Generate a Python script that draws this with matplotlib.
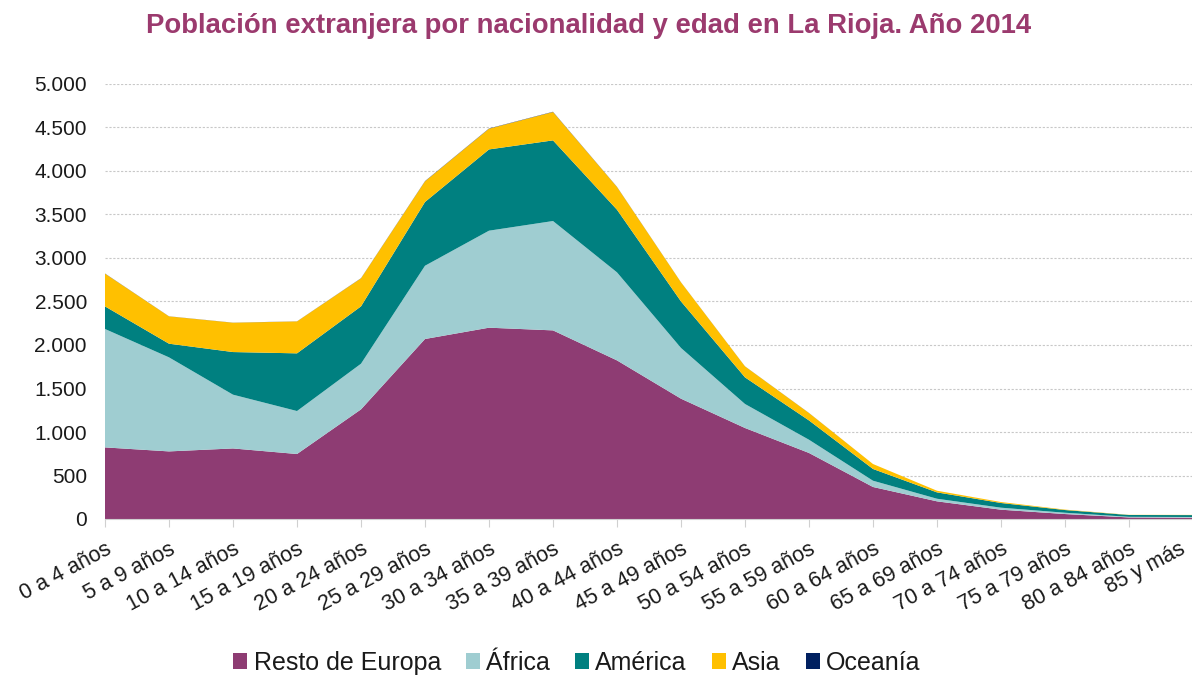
import matplotlib
matplotlib.use("Agg")
import matplotlib.pyplot as plt
from matplotlib.ticker import FuncFormatter, MultipleLocator
from matplotlib.patches import Patch
from matplotlib.transforms import ScaledTranslation

categories = ["0 a 4 años", "5 a 9 años", "10 a 14 años", "15 a 19 años", "20 a 24 años",
              "25 a 29 años", "30 a 34 años", "35 a 39 años", "40 a 44 años", "45 a 49 años",
              "50 a 54 años", "55 a 59 años", "60 a 64 años", "65 a 69 años", "70 a 74 años",
              "75 a 79 años", "80 a 84 años", "85 y más"]

resto_europa = [823, 777, 811, 747, 1260, 2069, 2199, 2168, 1823, 1383, 1046, 759, 368, 203, 107, 57, 18, 15]
africa = [1361, 1081, 618, 494, 525, 842, 1115, 1257, 1012, 583, 276, 152, 72, 30, 23, 15, 7, 8]
america = [260, 157, 490, 663, 659, 733, 934, 927, 720, 535, 306, 222, 135, 73, 54, 31, 21, 22]
asia = [376, 314, 337, 367, 322, 237, 238, 326, 261, 219, 126, 85, 57, 19, 11, 5, 2, 2]
oceania = [2, 1, 1, 1, 2, 3, 3, 3, 2, 1, 1, 1, 0, 0, 0, 0, 0, 0]

series_names = ["Resto de Europa", "África", "América", "Asia", "Oceanía"]
colors = ["#8E3C73", "#9FCDD1", "#008080", "#FFC000", "#002060"]

plt.rcParams['font.family'] = ['Liberation Sans', 'DejaVu Sans']

fig = plt.figure(figsize=(11.92, 6.75), dpi=100)
ax = fig.add_axes([105/1192, (675-519)/675, (1193-105)/1192, (519-84)/675])

x = list(range(len(categories)))
ax.stackplot(x, resto_europa, africa, america, asia, oceania, colors=colors, linewidth=0)

ax.set_xlim(0, len(categories) - 1)
ax.set_ylim(0, 5000)
ax.yaxis.set_major_locator(MultipleLocator(500))
ax.yaxis.set_major_formatter(FuncFormatter(lambda v, p: f"{int(v):,}".replace(",", ".")))
ax.grid(axis='y', color='#C8C8C8', linestyle=(0, (2, 1.5)), linewidth=0.8)
ax.set_axisbelow(True)

ax.set_xticks(x)
ax.set_xticklabels(categories, rotation=28, ha='right', rotation_mode='anchor',
                   fontsize=15.5, color='#1a1a1a')
ax.tick_params(axis='x', length=6, color='#D0D0D0', pad=8)
ax.tick_params(axis='y', length=0, labelsize=15, labelcolor='#1a1a1a', pad=13)

# the last label is nudged left so it stays inside the figure (as in the reference)
last = ax.get_xticklabels()[-1]
last.set_transform(last.get_transform() + ScaledTranslation(-14/100, 0, fig.dpi_scale_trans))

for s in ['top', 'right', 'left']:
    ax.spines[s].set_visible(False)
ax.spines['bottom'].set_color('#D0D0D0')
ax.spines['bottom'].set_zorder(5)

fig.text(0.494, 0.962, "Población extranjera por nacionalidad y edad en La Rioja. Año 2014",
         ha='center', va='center', fontsize=19.8, fontweight='bold', color='#9B3A6E')

handles = [Patch(facecolor=c, edgecolor='none') for c in colors]
fig.legend(handles, series_names, loc='center', bbox_to_anchor=(0.484, 0.018), ncol=5,
           frameon=False, fontsize=18, handlelength=0.56, handleheight=0.56,
           handletextpad=0.25, columnspacing=1.0, labelcolor='#1a1a1a',
           borderpad=0, borderaxespad=0)

fig.savefig("out.png", dpi=100)
